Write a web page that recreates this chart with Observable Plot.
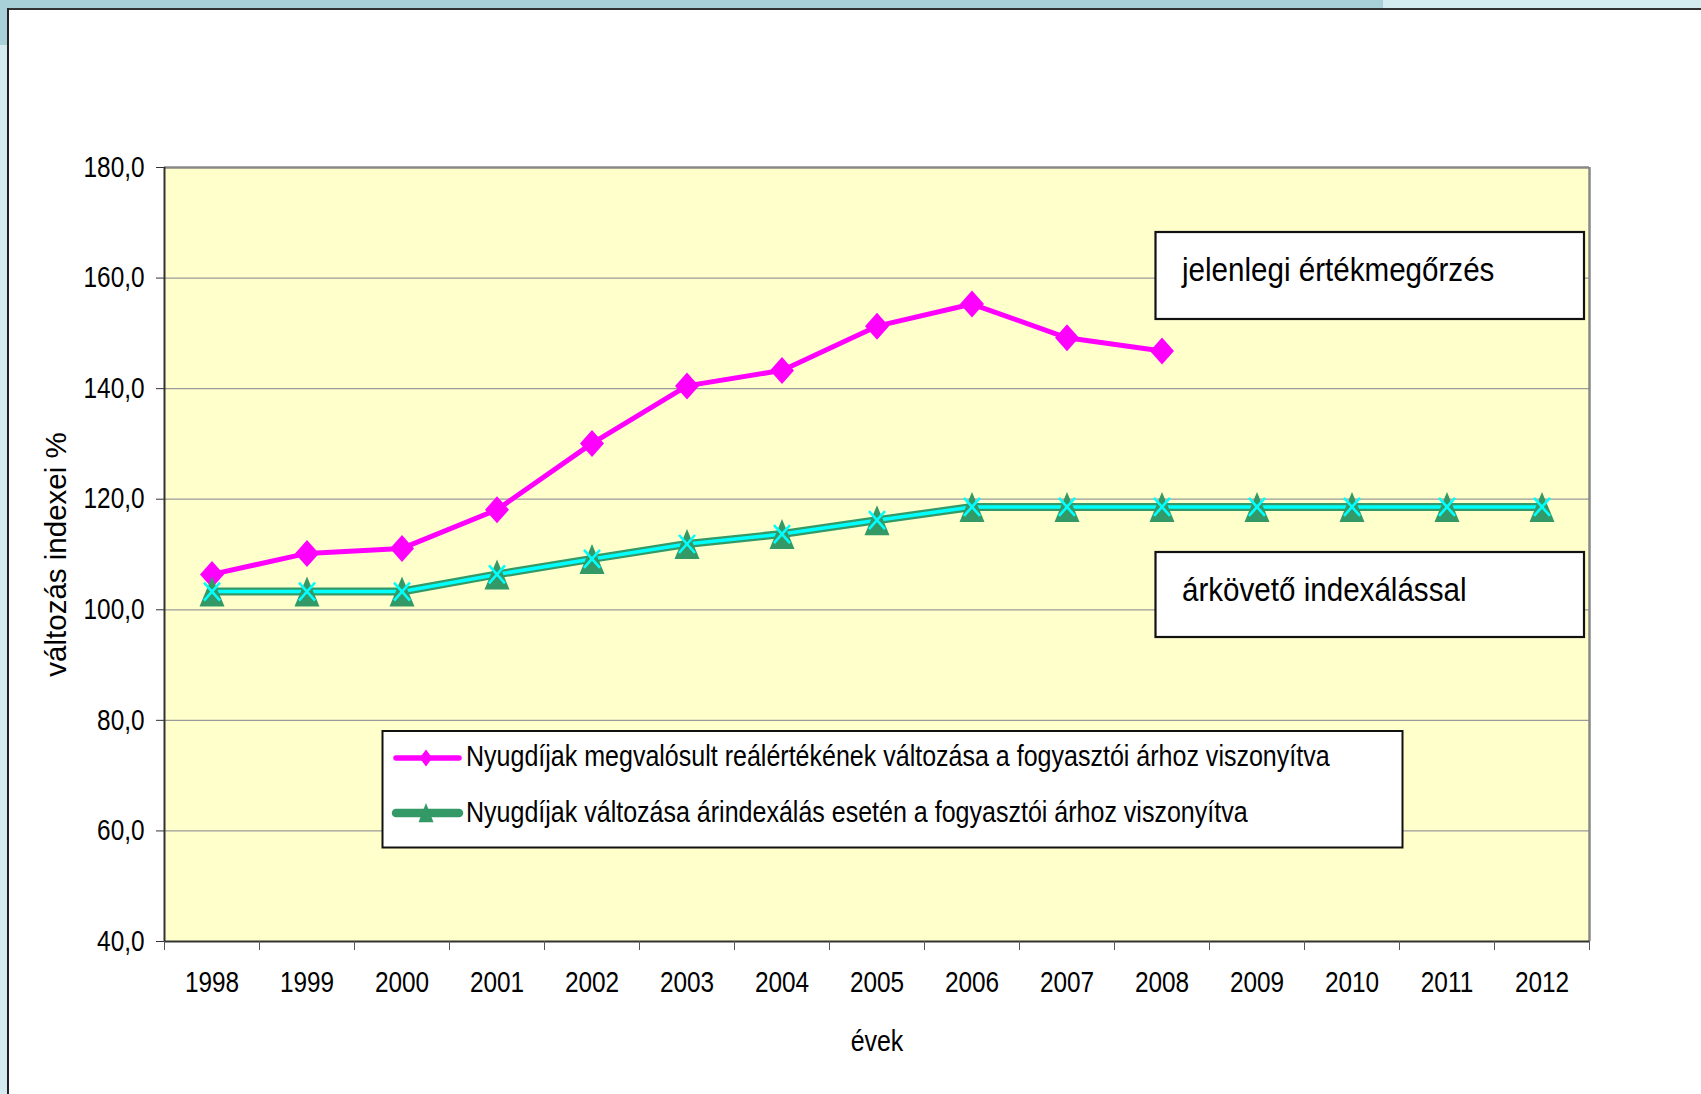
<!DOCTYPE html>
<html><head><meta charset="utf-8">
<script src="https://cdn.jsdelivr.net/npm/d3@7"></script>
<script src="https://cdn.jsdelivr.net/npm/@observablehq/plot@0.6"></script>
<style>
html,body{margin:0;padding:0;background:#fff;overflow:hidden;}
#wrap{position:relative;width:1701px;height:1094px;font-family:"Liberation Sans",Arial,sans-serif;}
#wrap svg.plot{position:absolute;left:0;top:0;}
.deco{position:absolute;}
#overlay{position:absolute;left:0;top:0;}
</style></head><body><div id="wrap"></div>
<script>
// ---- data ----
const years = [1998, 1999, 2000, 2001, 2002, 2003, 2004, 2005, 2006, 2007, 2008, 2009, 2010, 2011, 2012];
const realYears = [1998, 1999, 2000, 2001, 2002, 2003, 2004, 2005, 2006, 2007, 2008];
const realValues = [106.4, 110.2, 111.1, 118.1, 130.1, 140.5, 143.3, 151.3, 155.3, 149.2, 146.8];
const indexedValues = [103.3, 103.3, 103.3, 106.4, 109.2, 111.9, 113.7, 116.2, 118.6, 118.6, 118.6, 118.6, 118.6, 118.6, 118.6];
const yTicks = [40, 60, 80, 100, 120, 140, 160, 180];
const seriesNames = [
  "Nyugdíjak megvalósult reálértékének változása a fogyasztói árhoz viszonyítva",
  "Nyugdíjak változása árindexálás esetén a fogyasztói árhoz viszonyítva"
];
const annotations = ["jelenlegi értékmegőrzés", "árkövető indexálással"];
const yLabel = "változás indexei %";
const xLabel = "évek";

const realData = realYears.map((y, i) => ({year: y, value: realValues[i]}));
const indexedData = years.map((y, i) => ({year: y, value: indexedValues[i]}));
const boundaries = [years[0] - 0.5, ...years.map(y => y + 0.5)];

const FONT = '"Liberation Sans",Arial,sans-serif';

const diamond = {draw(c) { c.moveTo(0, -13.5); c.lineTo(12, 0); c.lineTo(0, 13.5); c.lineTo(-12, 0); c.closePath(); }};
const triangle = {draw(c) { c.moveTo(0, -15); c.lineTo(12.5, 15); c.lineTo(-12.5, 15); c.closePath(); }};
const cross = {draw(c) { c.moveTo(-8, -9); c.lineTo(8, 9); c.moveTo(8, -9); c.lineTo(-8, 9); }};

const chart = Plot.plot({
  width: 1701,
  height: 1094,
  marginLeft: 164,
  marginRight: 112,
  marginTop: 167,
  marginBottom: 153,
  style: {fontFamily: FONT, fontSize: "29px", color: "#000", background: "transparent"},
  x: {type: "linear", domain: [years[0] - 0.5, years[years.length - 1] + 0.5]},
  y: {domain: [40, 180]},
  marks: [
    Plot.frame({fill: "#ffffcc", stroke: null}),
    Plot.gridY({ticks: yTicks, stroke: "#9a9a9a", strokeOpacity: 1, strokeWidth: 1.2}),
    Plot.ruleY([180], {stroke: "#888", strokeWidth: 2.5}),
    Plot.ruleX([years[years.length - 1] + 0.5], {stroke: "#888", strokeWidth: 2.5}),
    Plot.ruleY([40], {stroke: "#333", strokeWidth: 2}),
    Plot.ruleX([years[0] - 0.5], {stroke: "#333", strokeWidth: 2}),
    Plot.axisY({ticks: yTicks, tickSize: 8, tickPadding: 12, stroke: "#333", tickFormat: d => d.toFixed(1).replace(".", ","), label: null, fontSize: 29, className: "ticklab"}),
    Plot.axisX({ticks: boundaries, tickSize: 9, tickFormat: () => "", stroke: "#555", label: null}),
    Plot.axisX({ticks: years, tickSize: 0, tickPadding: 30, tickFormat: d => String(d), label: null, fontSize: 29, className: "ticklab"}),
    Plot.text([yLabel], {frameAnchor: "left", dx: -108, rotate: -90, textAnchor: "middle", lineAnchor: "middle", fontSize: 29.5, fill: "#000"}),
    Plot.text([xLabel], {frameAnchor: "bottom", dy: 100, textAnchor: "middle", lineAnchor: "middle", fontSize: 29, fill: "#000", className: "xlab"}),
    Plot.line(realData, {x: "year", y: "value", stroke: "#ff00ff", strokeWidth: 5}),
    Plot.dot(realData, {x: "year", y: "value", symbol: diamond, fill: "#ff00ff", stroke: null, r: 10}),
    Plot.line(indexedData, {x: "year", y: "value", stroke: "#339966", strokeWidth: 8}),
    Plot.line(indexedData, {x: "year", y: "value", stroke: "#00ffff", strokeWidth: 3.5}),
    Plot.dot(indexedData, {x: "year", y: "value", symbol: triangle, fill: "#339966", stroke: null, r: 10}),
    Plot.dot(indexedData, {x: "year", y: "value", symbol: cross, fill: "none", stroke: "#00ffff", strokeWidth: 2.6, r: 10})
  ]
});
const wrap = document.getElementById("wrap");
wrap.appendChild(chart);

// ---- overlay: legend and annotation boxes ----
const ov = d3.select(wrap).append("svg").attr("id", "overlay").attr("width", 1701).attr("height", 1094)
  .style("font-family", FONT);

// legend
ov.append("rect").attr("x", 382.5).attr("y", 731).attr("width", 1020).attr("height", 116.5)
  .attr("fill", "#fff").attr("stroke", "#111").attr("stroke-width", 2);
const legRows = [
  {y: 758, base: 766.3, color: "#ff00ff", w: 5.5, sym: "M0,-8.5L6.3,0L0,8.5L-6.3,0Z"},
  {y: 813, base: 822.3, color: "#339966", w: 8.5, sym: "M0,-10L7.5,9.3L-7.5,9.3Z"}
];
legRows.forEach((r, i) => {
  ov.append("line").attr("x1", 396).attr("x2", 459).attr("y1", r.y).attr("y2", r.y)
    .attr("stroke", r.color).attr("stroke-width", r.w).attr("stroke-linecap", "round");
  ov.append("path").attr("d", r.sym).attr("transform", `translate(426,${r.y})`).attr("fill", r.color);
  ov.append("text").attr("class", "leg").attr("x", 466).attr("y", r.base).attr("font-size", 30).attr("fill", "#000").text(seriesNames[i]);
});

// annotation boxes
const boxes = [{y: 232, h: 87, base: 281}, {y: 552, h: 85, base: 601}];
boxes.forEach((b, i) => {
  ov.append("rect").attr("x", 1155.5).attr("y", b.y).attr("width", 428.5).attr("height", b.h)
    .attr("fill", "#fff").attr("stroke", "#111").attr("stroke-width", 2.2);
  ov.append("text").attr("class", "ann").attr("x", 1182).attr("y", b.base).attr("font-size", 34).attr("fill", "#000").text(annotations[i]);
});

// narrow the glyphs (the reference uses a condensed face)
function condense(root, sel, factor) {
  root.querySelectorAll(sel).forEach(t => {
    const L = t.getComputedTextLength();
    if (L > 0) {
      t.setAttribute("textLength", (L * factor).toFixed(2));
      t.setAttribute("lengthAdjust", "spacingAndGlyphs");
    }
  });
}
condense(chart, ".ticklab text", 0.84);
condense(chart, ".xlab text", 0.86);
condense(ov.node(), "text.leg", 0.834);
condense(ov.node(), "text.ann", 0.87);

// page decorations
const decos = [
  [0, 0, 1383, 8, "#a8d0d8"], [1383, 0, 318, 8, "#d4ecf0"],
  [0, 0, 7, 45, "#a8d0d8"], [0, 45, 7, 1049, "#d4ecf0"],
  [7, 8, 1694, 2, "#333"], [7, 8, 1.6, 1086, "#222"]
];
decos.forEach(([l, t, w, h, c]) => {
  const d = document.createElement("div");
  d.className = "deco";
  Object.assign(d.style, {left: l + "px", top: t + "px", width: w + "px", height: h + "px", background: c});
  wrap.appendChild(d);
});
</script>
</body></html>
